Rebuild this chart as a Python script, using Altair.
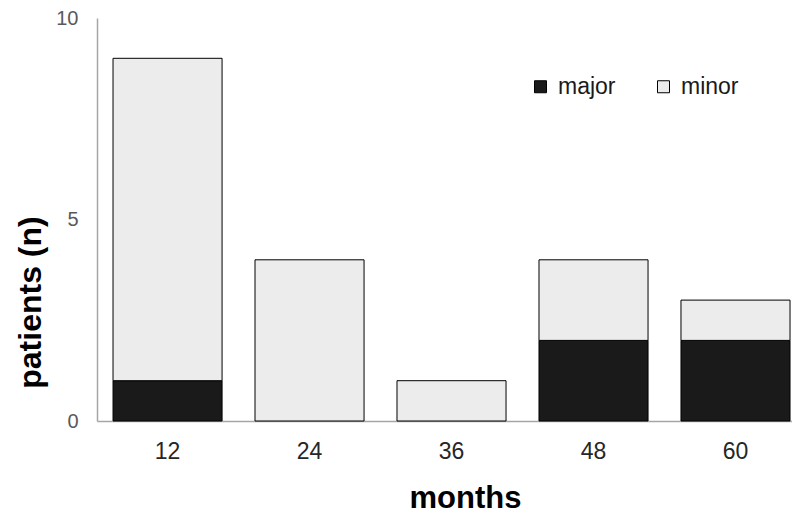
import altair as alt
import pandas as pd

months = ["12", "24", "36", "48", "60"]
major = [1, 0, 0, 2, 2]
minor = [8, 4, 1, 2, 1]
series = ["major", "minor"]

rows = []
for i, m in enumerate(months):
    rows.append({"months": m, "type": "major", "n": major[i], "ord": 0})
    rows.append({"months": m, "type": "minor", "n": minor[i], "ord": 1})
df = pd.DataFrame(rows)

FONT = "Liberation Sans"

chart = alt.Chart(df).transform_filter(
    alt.datum.n > 0
).mark_bar(stroke="black", strokeWidth=1).encode(
    x=alt.X("months:N", sort=months,
            scale=alt.Scale(paddingInner=0.232, paddingOuter=0.0634, align=0.89),
            axis=alt.Axis(title="months", labelAngle=0, ticks=False,
                          domainColor="#a6a6a6", domainWidth=1.5,
                          labelFont=FONT, labelFontSize=23, labelColor="#262626",
                          labelPadding=19, titleFont=FONT, titleFontSize=31,
                          titleFontWeight="bold", titleColor="black",
                          titlePadding=20, titleX=368)),
    y=alt.Y("n:Q", stack="zero",
            scale=alt.Scale(domain=[0, 10], nice=False),
            axis=alt.Axis(title="patients (n)", values=[0, 5, 10], grid=False,
                          ticks=False, domainColor="#a6a6a6", domainWidth=1.5,
                          labelFont=FONT, labelFontSize=20, labelColor="#595959",
                          labelPadding=19, titleFont=FONT, titleFontSize=32,
                          titleFontWeight="bold", titleColor="black",
                          titlePadding=8, titleY=284)),
    color=alt.Color("type:N", scale=alt.Scale(domain=series, range=["#1a1a1a", "#ececec"]),
                    legend=alt.Legend(title=None, orient="none", legendX=432, legendY=57,
                                      direction="horizontal", symbolType="square",
                                      symbolSize=144, symbolStrokeColor="black",
                                      symbolStrokeWidth=1, labelFont=FONT,
                                      labelFontSize=23, labelColor="#1a1a1a",
                                      columnPadding=36, labelOffset=6)),
    order=alt.Order("ord:Q"),
).properties(
    width=695, height=403,
    autosize=alt.AutoSizeParams(type="none"),
    padding={"left": 89, "top": 10, "right": 0, "bottom": 98},
).configure_view(stroke=None)

chart.save("out.html", embed_options={"renderer": "svg", "actions": False})
